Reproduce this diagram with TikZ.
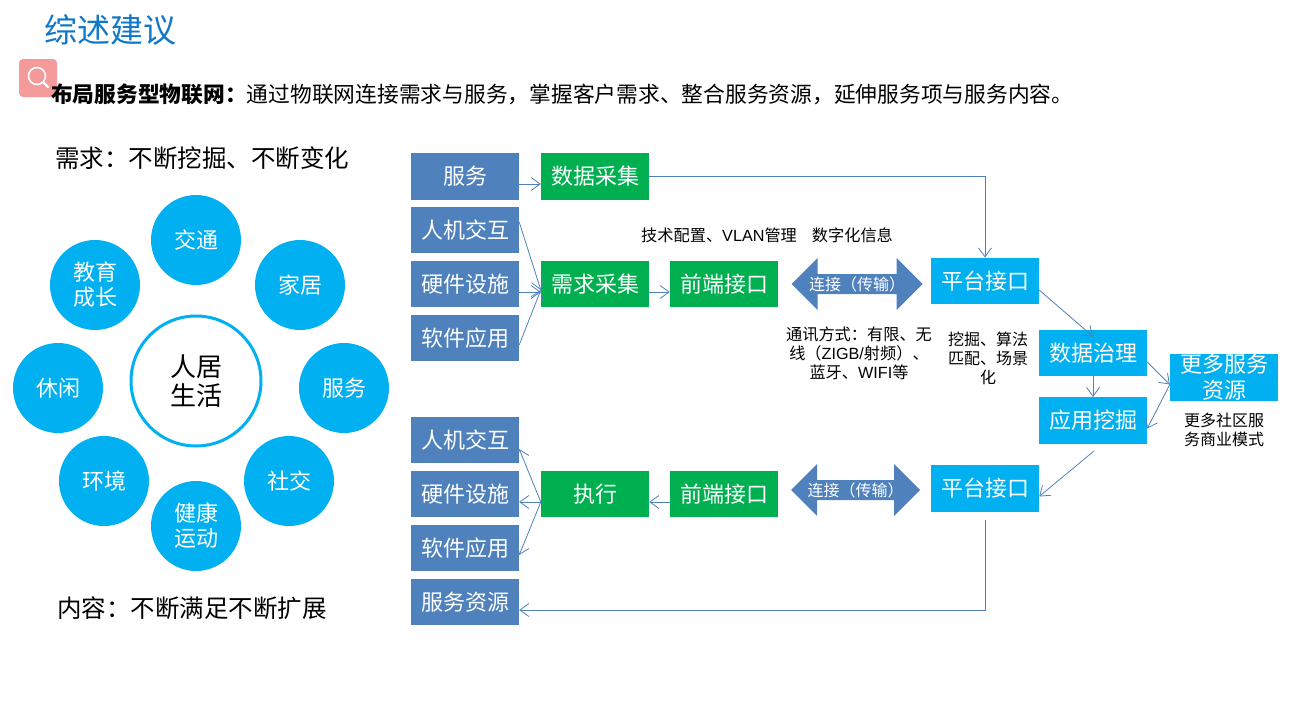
\documentclass[tikz,border=0pt]{standalone}
\usepackage{fontspec}
\setmainfont{Noto Sans CJK SC}
\newfontfamily\latn{Liberation Sans}
\usetikzlibrary{arrows.meta,shapes.arrows}
\definecolor{boxblue}{HTML}{4F81BD}
\definecolor{boxgreen}{HTML}{00B050}
\definecolor{boxcyan}{HTML}{00B0F0}
\definecolor{titleblue}{HTML}{0F78C8}
\definecolor{iconpink}{HTML}{F59A9B}
\newcommand{\fsz}[2]{\fontsize{#1}{#2}\selectfont}
\tikzset{
  x=1pt,y=-1pt,
  bx/.style={minimum width=108pt,minimum height=46.5pt,inner sep=0pt,text=white,font=\fsz{22}{26}},
  bluebox/.style={bx,fill=boxblue},
  greenbox/.style={bx,fill=boxgreen},
  cyanbox/.style={bx,fill=boxcyan},
  bubble/.style={circle,fill=boxcyan,minimum size=90pt,inner sep=0pt,text=white,align=center,font=\fsz{22}{25}},
  hub/.style={circle,draw=boxcyan,line width=3pt,fill=white,minimum size=130pt,inner sep=0pt,align=center,font=\fsz{26}{29}},
  link/.style={draw=boxblue,line width=0.8pt,-{Straight Barb[length=9pt,width=13pt]}},
  dbl/.style={shape=double arrow,shape border rotate=0,fill=boxblue,text=white,inner sep=0pt,minimum height=131pt,minimum width=52pt,double arrow head extend=12.5pt,double arrow tip angle=90,font=\fsz{16}{18}},
  note/.style={align=center,inner sep=0pt,font=\fsz{16}{19}},
  head/.style={anchor=west,inner sep=0pt,font=\fsz{24.5}{30}}
}
\begin{document}
\begin{tikzpicture}
\useasboundingbox (0,0) rectangle (1293,715);
% icon
\node[rounded corners=4pt,fill=iconpink,minimum size=38pt,inner sep=0pt] (icon) at (38,78) {};
\node[circle,draw=white,line width=1.6pt,minimum size=17pt,inner sep=0pt] (lens) at (37,76) {};
\coordinate (handle) at (48,87);
\draw[white,line width=2.4pt,line cap=round] (lens.south east) -- (handle);
% titles
\node[anchor=west,inner sep=0pt,text=titleblue,font=\fsz{33}{36}] (title) at (44,30) {综述建议};
\node[anchor=west,inner sep=0pt,font=\fsz{21.75}{26}] (intro) at (51,94) {\textbf{布局服务型物联网：}通过物联网连接需求与服务，掌握客户需求、整合服务资源，延伸服务项与服务内容。};
\node[head] (need) at (55,158) {需求：不断挖掘、不断变化};
\node[head] (content) at (57,608) {内容：不断满足不断扩展};
% circles
\node[hub] (life) at (196,381) {人居\\生活};
\node[bubble] (c1) at (196,240) {交通};
\node[bubble] (c2) at (300,285) {家居};
\node[bubble] (c3) at (344,388) {服务};
\node[bubble] (c4) at (289,481) {社交};
\node[bubble] (c5) at (196,526) {健康\\运动};
\node[bubble] (c6) at (104,481) {环境};
\node[bubble] (c7) at (58,388) {休闲};
\node[bubble] (c8) at (95,285) {教育\\成长};
% upper flow
\node[bluebox] (fw) at (465,176.5) {服务};
\node[bluebox] (ra) at (465,230) {人机交互};
\node[bluebox] (rb) at (465,284) {硬件设施};
\node[bluebox] (rc) at (465,338) {软件应用};
\node[greenbox] (sj) at (595,176.5) {数据采集};
\node[greenbox] (xq) at (595,284) {需求采集};
\node[greenbox] (qd) at (724,284) {前端接口};
\node[dbl] (lk) at (857,284) {连接（传输）};
\node[cyanbox] (pt) at (985,281) {平台接口};
\node[cyanbox] (zl) at (1093,353) {数据治理};
\node[cyanbox] (wj) at (1093,420.5) {应用挖掘};
\node[cyanbox] (more) at (1224,377.5) {};
\node[align=center,inner sep=0pt,text=white,font=\fsz{22}{26}] (moretext) at (1224,377.5) {更多服务\\资源};
% lower flow
\node[bluebox] (la) at (465,440) {人机交互};
\node[bluebox] (lb) at (465,494) {硬件设施};
\node[bluebox] (lc) at (465,548) {软件应用};
\node[bluebox] (ld) at (465,602) {服务资源};
\node[greenbox] (zx) at (595,494) {执行};
\node[greenbox] (qd2) at (724,494) {前端接口};
\node[dbl,minimum height=129pt] (lk2) at (855.5,490) {连接（传输）};
\node[cyanbox] (pt2) at (985,488.5) {平台接口};
% notes
\node[anchor=west,inner sep=0pt,font=\fsz{16.2}{19}] (tech) at (641,235) {技术配置、{\latn VLAN}管理\hspace{15pt}数字化信息};
\node[note,font=\fsz{16.2}{19}] (comm) at (859,353) {通讯方式：有限、无\\线（{\latn ZIGB/}射频）、\\蓝牙、{\latn WIFI}等};
\node[note] (algo) at (988,358) {挖掘、算法\\匹配、场景\\化};
\node[note] (biz) at (1224,430) {更多社区服\\务商业模式};
% connectors
\draw[link] ([yshift=-7.5pt]fw.east) -- ([yshift=-7.5pt]sj.west);
\draw[link] ([yshift=8pt]ra.east) -- ([yshift=-6pt]xq.west);
\draw[link] ([yshift=-8pt]rb.east) -- ([yshift=-8pt]xq.west);
\draw[link] ([yshift=-7pt]rc.east) -- ([yshift=-6pt]xq.west);
\draw[link] ([yshift=-8pt]xq.east) -- ([yshift=-8pt]qd.west);
\draw[link] (sj.east) -| (pt.north);
\draw[link] ([yshift=-9pt]pt.east) -- ([yshift=-7pt]zl.north);
\draw[link] (zl.south) -- (wj.north);
\draw[link] ([yshift=-9pt]zl.east) -- ([yshift=-7pt]more.west);
\draw[link] ([yshift=-7pt]more.west) -- ([yshift=-8pt]wj.east);
\coordinate (wjout) at (1094,451);
\draw[link] (wjout) -- ([yshift=-8pt]pt2.east);
\coordinate (ptout) at (985,520);
\coordinate (ptcorner) at (985,610);
\draw[link] (ptout) -- (ptcorner) -- ([yshift=-8pt]ld.east);
\draw[link] ([yshift=-8pt]zx.west) -- ([yshift=-9pt]la.east);
\draw[link] ([yshift=-8pt]zx.west) -- ([yshift=-8pt]lb.east);
\draw[link] ([yshift=-8pt]zx.west) -- ([yshift=-7pt]lc.east);
\draw[link] ([yshift=-8pt]qd2.west) -- ([yshift=-8pt]zx.east);
\end{tikzpicture}
\end{document}
